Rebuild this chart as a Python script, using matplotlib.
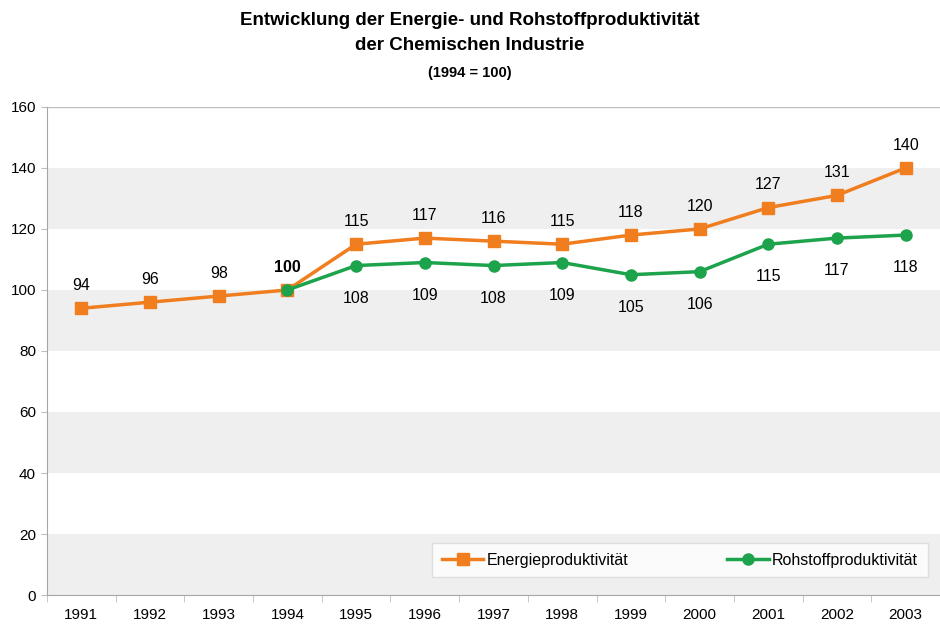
import matplotlib.pyplot as plt

years = ['1991', '1992', '1993', '1994', '1995', '1996', '1997',
         '1998', '1999', '2000', '2001', '2002', '2003']
energie = [94, 96, 98, 100, 115, 117, 116, 115, 118, 120, 127, 131, 140]
rohstoff_years = years[3:]
rohstoff = [100, 108, 109, 108, 109, 105, 106, 115, 117, 118]

orange = '#F07D1E'
green = '#1DA34B'

plt.rcParams['font.family'] = ['Liberation Sans', 'DejaVu Sans']

fig = plt.figure(figsize=(9.4, 6.29), dpi=100)
ax = fig.add_axes([0.05, 0.054, 0.95, 0.776])

# alternating grey bands
for lo in range(0, 160, 40):
    ax.axhspan(lo, lo + 20, color='#EFEFEF', zorder=0, lw=0)

x_e = list(range(len(years)))
x_r = [years.index(y) for y in rohstoff_years]

ax.plot(x_e, energie, color=orange, lw=2.5, marker='s', ms=8,
        label='Energieproduktivität', zorder=3)
ax.plot(x_r, rohstoff, color=green, lw=2.5, marker='o', ms=8,
        label='Rohstoffproduktivität', zorder=4)

for i, v in enumerate(energie):
    ax.annotate(str(v), (i, v), xytext=(0, 11), textcoords='offset points',
                ha='center', va='bottom', fontsize=11.5,
                fontweight='bold' if years[i] == '1994' else 'normal')
for i, v in zip(x_r[1:], rohstoff[1:]):
    ax.annotate(str(v), (i, v), xytext=(0, -18), textcoords='offset points',
                ha='center', va='top', fontsize=11.5)

ax.set_ylim(0, 160)
ax.set_yticks(range(0, 161, 20))
ax.set_xlim(-0.5, 12.45)
ax.set_xticks(x_e)
ax.set_xticklabels(years)
ax.set_xticks([i + 0.5 for i in range(-1, 13)], minor=True)
ax.tick_params(axis='x', which='major', length=0, pad=9, labelsize=11)
ax.tick_params(axis='x', which='minor', length=5, color='#BFBFBF')
ax.tick_params(axis='y', length=4, color='#BFBFBF', labelsize=11, pad=4)

ax.axhline(160, color='#BFBFBF', lw=1)
for s in ['top', 'right']:
    ax.spines[s].set_visible(False)
for s in ['left', 'bottom']:
    ax.spines[s].set_color('#A6A6A6')

leg = ax.legend(loc='lower right', ncol=2, bbox_to_anchor=(0.995, 0.02),
                frameon=True, fancybox=False, fontsize=11.5, handlelength=2.6,
                columnspacing=6.2, borderpad=0.6, handletextpad=0.2)
leg.get_frame().set_edgecolor('#D9D9D9')
leg.get_frame().set_linewidth(1)

fig.text(0.5, 0.968, 'Entwicklung der Energie- und Rohstoffproduktivität',
         ha='center', va='center', fontsize=13.5, fontweight='bold')
fig.text(0.5, 0.927, 'der Chemischen Industrie',
         ha='center', va='center', fontsize=13.5, fontweight='bold')
fig.text(0.5, 0.884, '(1994 = 100)',
         ha='center', va='center', fontsize=10.5, fontweight='bold')

fig.savefig('out.png', dpi=100)
